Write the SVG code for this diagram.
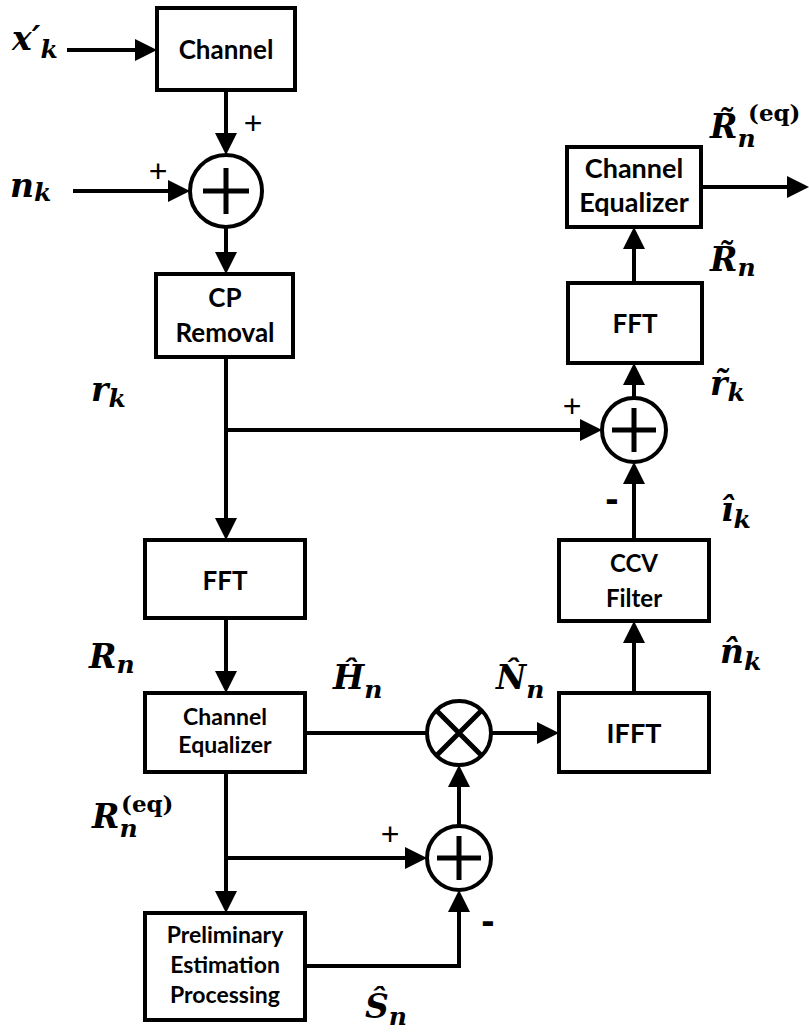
<svg xmlns="http://www.w3.org/2000/svg" width="809" height="1033" viewBox="0 0 809 1033">
<style>
.box{fill:#fff;stroke:#000;stroke-width:4;stroke-linejoin:miter}
.lbl{font-family:"Lato","Liberation Sans",sans-serif;font-weight:bold;text-anchor:middle;fill:#000}
.wire{fill:none;stroke:#000;stroke-width:4}
.circ{fill:#fff;stroke:#000;stroke-width:4}
.sym{stroke:#000;stroke-width:5;fill:none}
.m{font-family:"DejaVu Serif","Liberation Serif",serif;font-weight:bold;font-style:italic;font-size:33px;fill:#000}
.s{font-size:25px}
.mu{font-family:"DejaVu Serif","Liberation Serif",serif;font-weight:bold;font-size:23px;fill:#000}
.sign{font-family:"Liberation Sans",sans-serif;font-size:32px;fill:#000;text-anchor:middle}
.minus{font-family:"Liberation Sans",sans-serif;font-size:40px;font-weight:bold;fill:#000;text-anchor:middle}
</style>
<defs>
<marker id="ah" markerUnits="userSpaceOnUse" markerWidth="22" markerHeight="22" refX="16" refY="11" orient="auto">
<path d="M0,0 L22,11 L0,22 z" fill="#000"/>
</marker>
</defs>
<rect width="809" height="1033" fill="#fff"/>

<g id="connectors">
<line class="wire" x1="67" y1="50" x2="151" y2="50" marker-end="url(#ah)"/>
<line class="wire" x1="226" y1="90" x2="226" y2="149" marker-end="url(#ah)"/>
<line class="wire" x1="73" y1="191" x2="184" y2="191" marker-end="url(#ah)"/>
<line class="wire" x1="226" y1="227" x2="226" y2="268" marker-end="url(#ah)"/>
<line class="wire" x1="226" y1="357" x2="226" y2="534" marker-end="url(#ah)"/>
<line class="wire" x1="224" y1="430" x2="596" y2="430" marker-end="url(#ah)"/>
<line class="wire" x1="226" y1="618" x2="226" y2="687" marker-end="url(#ah)"/>
<line class="wire" x1="305" y1="733" x2="427" y2="733"/>
<line class="wire" x1="491" y1="733" x2="553" y2="733" marker-end="url(#ah)"/>
<line class="wire" x1="226" y1="772" x2="226" y2="907" marker-end="url(#ah)"/>
<line class="wire" x1="224" y1="858" x2="421" y2="858" marker-end="url(#ah)"/>
<polyline class="wire" points="305,966 459,966 459,896" marker-end="url(#ah)"/>
<line class="wire" x1="459" y1="826" x2="459" y2="771" marker-end="url(#ah)"/>
<line class="wire" x1="634" y1="693" x2="634" y2="627" marker-end="url(#ah)"/>
<line class="wire" x1="634" y1="540" x2="634" y2="468" marker-end="url(#ah)"/>
<line class="wire" x1="634" y1="398" x2="634" y2="369" marker-end="url(#ah)"/>
<line class="wire" x1="634" y1="283" x2="634" y2="233" marker-end="url(#ah)"/>
<line class="wire" x1="701" y1="187" x2="803" y2="187" marker-end="url(#ah)"/>
</g>

<g id="channel">
<rect class="box" x="157" y="8" width="138" height="82"/>
<text class="lbl" x="226" y="59" font-size="26">Channel</text>
</g>
<g id="sum1">
<circle class="circ" cx="226" cy="191" r="36"/>
<path class="sym" d="M203,191 H249 M226,168 V214"/>
</g>
<g id="cp-removal">
<rect class="box" x="156" y="274" width="137" height="83"/>
<text class="lbl" x="225" y="307" font-size="26">CP</text>
<text class="lbl" x="225" y="342" font-size="26">Removal</text>
</g>
<g id="fft-left">
<rect class="box" x="145" y="540" width="160" height="78"/>
<text class="lbl" x="225" y="590" font-size="26">FFT</text>
</g>
<g id="equalizer-left">
<rect class="box" x="145" y="693" width="160" height="79"/>
<text class="lbl" x="225" y="725" font-size="23">Channel</text>
<text class="lbl" x="225" y="753" font-size="23">Equalizer</text>
</g>
<g id="preliminary">
<rect class="box" x="145" y="913" width="160" height="107"/>
<text class="lbl" x="225" y="943" font-size="23">Preliminary</text>
<text class="lbl" x="225" y="973" font-size="23">Estimation</text>
<text class="lbl" x="225" y="1003" font-size="23">Processing</text>
</g>
<g id="multiplier">
<circle class="circ" cx="459" cy="733" r="32"/>
<path class="sym" d="M436,710 L482,756 M482,710 L436,756" stroke-width="4"/>
</g>
<g id="sum2">
<circle class="circ" cx="459" cy="858" r="32"/>
<path class="sym" d="M437,858 H481 M459,836 V880"/>
</g>
<g id="ifft">
<rect class="box" x="559" y="693" width="150" height="79"/>
<text class="lbl" x="634" y="743" font-size="27">IFFT</text>
</g>
<g id="ccv-filter">
<rect class="box" x="559" y="540" width="150" height="81"/>
<text class="lbl" x="634" y="572" font-size="24">CCV</text>
<text class="lbl" x="634" y="607" font-size="24">Filter</text>
</g>
<g id="sum3">
<circle class="circ" cx="634" cy="430" r="32"/>
<path class="sym" d="M612,430 H656 M634,408 V452"/>
</g>
<g id="fft-right">
<rect class="box" x="568" y="283" width="134" height="80"/>
<text class="lbl" x="635" y="333" font-size="26">FFT</text>
</g>
<g id="equalizer-right">
<rect class="box" x="567" y="147" width="134" height="80"/>
<text class="lbl" x="634" y="178" font-size="27">Channel</text>
<text class="lbl" x="634" y="212" font-size="27">Equalizer</text>
</g>

<g id="labels">
<text class="m" x="12" y="50">x′<tspan class="s" dy="8">k</tspan></text>
<text class="m" x="10" y="197">n<tspan class="s" dy="4">k</tspan></text>
<text class="sign" x="253" y="134">+</text>
<text class="sign" x="158" y="182">+</text>
<text class="m" x="91" y="401">r<tspan class="s" dy="6">k</tspan></text>
<text class="m" x="89" y="668">R<tspan class="s" dy="5">n</tspan></text>
<text class="m" x="333" y="689">Ĥ<tspan class="s" dy="9">n</tspan></text>
<text class="m" x="496" y="689">N̂<tspan class="s" dy="9">n</tspan></text>
<text class="m" x="92" y="828">R<tspan class="s" dy="9">n</tspan></text>
<text class="mu" x="121" y="812">(eq)</text>
<text class="sign" x="390" y="845">+</text>
<text class="minus" x="488" y="934">-</text>
<text class="m" x="365" y="1018">Ŝ<tspan class="s" dy="7">n</tspan></text>
<text class="m" x="720" y="663">n̂<tspan class="s" dy="7">k</tspan></text>
<text class="m" x="721" y="521">î<tspan class="s" dy="7">k</tspan></text>
<text class="minus" x="612" y="512">-</text>
<text class="sign" x="572" y="417">+</text>
<text class="m" x="710" y="395">r̃<tspan class="s" dy="6">k</tspan></text>
<text class="m" x="710" y="271">R̃<tspan class="s" dy="5">n</tspan></text>
<text class="m" x="710" y="138">R̃<tspan class="s" dy="9">n</tspan></text>
<text class="mu" x="748" y="121">(eq)</text>
</g>
</svg>
